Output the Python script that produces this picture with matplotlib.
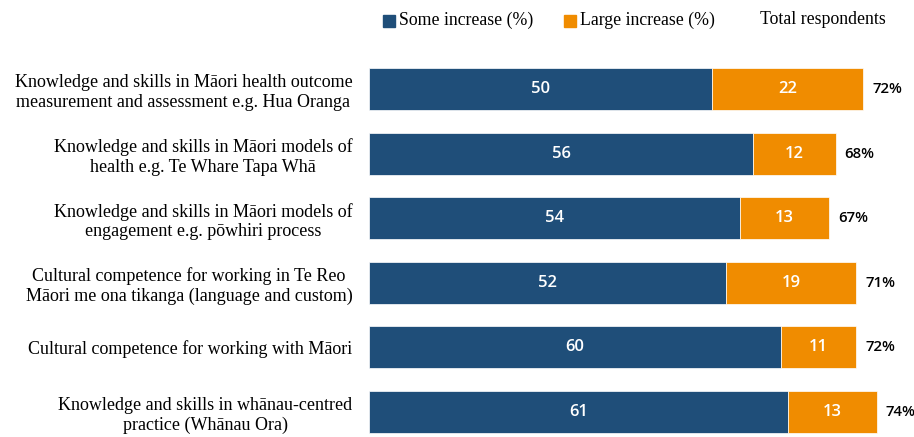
import matplotlib.pyplot as plt
from matplotlib.patches import Rectangle

categories = [
    "Knowledge and skills in Māori health outcome\nmeasurement and assessment e.g. Hua Oranga",
    "Knowledge and skills in Māori models of\nhealth e.g. Te Whare Tapa Whā",
    "Knowledge and skills in Māori models of\nengagement e.g. pōwhiri process",
    "Cultural competence for working in Te Reo\nMāori me ona tikanga (language and custom)",
    "Cultural competence for working with Māori",
    "Knowledge and skills in whānau-centred\npractice (Whānau Ora)",
]
some_increase = [50, 56, 54, 52, 60, 61]
large_increase = [22, 12, 13, 19, 11, 13]
totals = [72, 68, 67, 71, 72, 74]

blue = "#1f4e79"
orange = "#f08c00"
serif = "Liberation Serif"
sans = "Open Sans"

fig = plt.figure(figsize=(9.14, 4.37), dpi=100)
ax = fig.add_axes([369 / 914, 0, 1 - 369 / 914, 380 / 437])

ypos = list(range(len(categories) - 1, -1, -1))
ax.barh(ypos, some_increase, height=0.65, color=blue, edgecolor="white", linewidth=0.5)
ax.barh(ypos, large_increase, left=some_increase, height=0.65, color=orange,
        edgecolor="white", linewidth=0.5)

for y, s, l, t in zip(ypos, some_increase, large_increase, totals):
    ax.text(s / 2, y, str(s), ha="center", va="center", color="white",
            fontsize=12, fontfamily=sans, fontweight="semibold")
    ax.text(s + l / 2, y, str(l), ha="center", va="center", color="white",
            fontsize=12, fontfamily=sans, fontweight="semibold")
    ax.text(s + l + 1.3, y, f"{t}%", ha="left", va="center", color="black",
            fontsize=10.8, fontfamily=sans, fontweight="semibold")

ax.set_xlim(0, 79.4)
ax.set_ylim(-0.387, 5.495)
ax.set_yticks(ypos)
ax.set_yticklabels(categories, fontfamily=serif, fontsize=13,
                   multialignment="center", linespacing=1.2)
ax.tick_params(axis="y", length=0, pad=12)
ax.set_xticks([])
for sp in ax.spines.values():
    sp.set_visible(False)

# legend row
fig.patches.append(Rectangle((383 / 914, 1 - 27 / 437), 12 / 914, 12 / 437,
                             transform=fig.transFigure, color=blue))
fig.text(399 / 914, 1 - 20 / 437, "Some increase (%)", fontfamily=serif,
         fontsize=12.8, va="center")
fig.patches.append(Rectangle((564 / 914, 1 - 27 / 437), 12 / 914, 12 / 437,
                             transform=fig.transFigure, color=orange))
fig.text(580 / 914, 1 - 20 / 437, "Large increase (%)", fontfamily=serif,
         fontsize=12.8, va="center")
fig.text(760 / 914, 1 - 20 / 437, "Total respondents", fontfamily=serif,
         fontsize=12.8, va="center")

fig.savefig("out.png", dpi=100)
